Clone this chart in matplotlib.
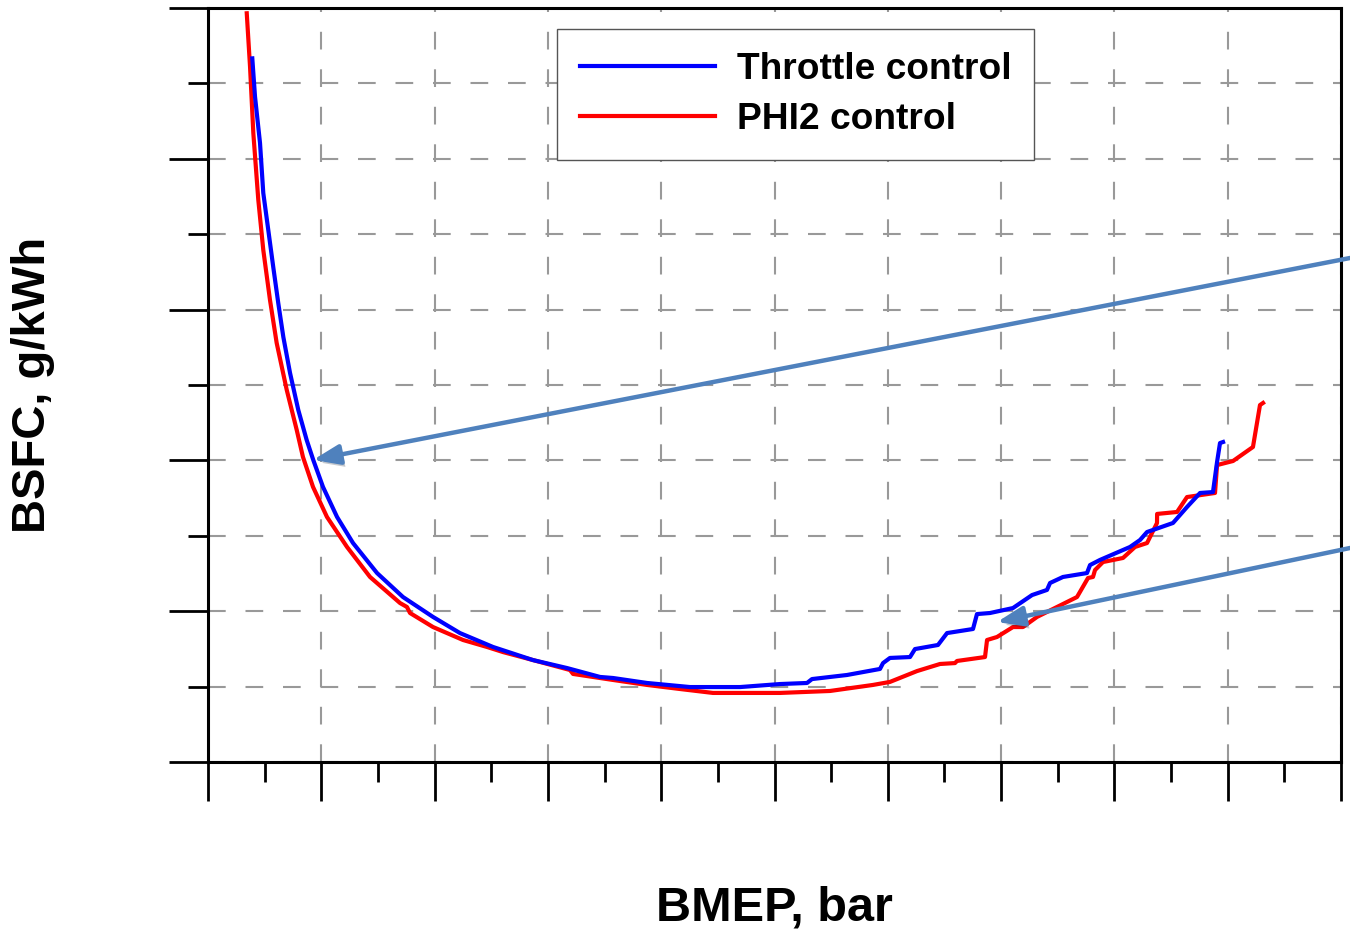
import matplotlib
matplotlib.use("Agg")
import matplotlib.pyplot as plt
import matplotlib.patheffects as pe
from matplotlib.ticker import MultipleLocator, NullFormatter

plt.rcParams['font.family'] = ['Liberation Sans', 'DejaVu Sans']

# Throttle control (BMEP in bar, BSFC in g/kWh)
throttle_bmep = [0.391, 0.415, 0.459, 0.488, 0.532, 0.576, 0.620, 0.665, 0.724, 0.797,
                 0.871, 0.929, 1.015, 1.139, 1.280, 1.492, 1.721, 1.986, 2.224, 2.515,
                 2.868, 3.169, 3.460, 3.575, 3.875, 4.254, 4.696, 5.049, 5.287, 5.331,
                 5.640, 5.931, 5.958, 6.019, 6.196, 6.240, 6.443, 6.523, 6.752, 6.787,
                 6.902, 7.105, 7.273, 7.405, 7.432, 7.546, 7.758, 7.785, 7.873, 8.138,
                 8.226, 8.288, 8.517, 8.641, 8.756, 8.870, 8.906, 8.932, 8.959]
throttle_bsfc = [666.6, 641.2, 610.5, 577.3, 552.8, 528.2, 504.4, 481.8, 458.0, 433.4,
                 413.5, 400.3, 382.4, 362.5, 345.2, 325.3, 309.4, 296.2, 285.5, 276.3,
                 267.6, 262.3, 256.4, 255.7, 252.4, 249.7, 249.7, 251.7, 252.4, 255.0,
                 257.7, 261.7, 265.6, 269.0, 269.6, 274.9, 277.6, 285.5, 288.2, 298.1,
                 298.8, 302.1, 310.7, 314.1, 318.7, 322.7, 325.3, 330.6, 334.0, 342.6,
                 347.2, 352.5, 358.5, 369.1, 378.4, 379.0, 398.9, 411.5, 412.2]

# PHI2 control
phi2_bmep = [0.342, 0.371, 0.400, 0.444, 0.488, 0.547, 0.606, 0.695, 0.783, 0.838,
             0.927, 1.050, 1.227, 1.430, 1.695, 1.756, 1.783, 1.986, 2.251, 2.462,
             2.604, 2.868, 3.195, 3.222, 3.460, 3.575, 3.875, 4.166, 4.457, 5.049,
             5.490, 5.869, 6.019, 6.258, 6.461, 6.593, 6.611, 6.858, 6.876, 6.964,
             7.105, 7.193, 7.317, 7.670, 7.767, 7.811, 7.829, 7.899, 8.076, 8.182,
             8.288, 8.376, 8.377, 8.553, 8.641, 8.888, 8.906, 9.047, 9.223, 9.285, 9.312]
phi2_bsfc = [696.5, 661.1, 617.1, 572.7, 539.5, 506.4, 477.9, 446.7, 420.2, 402.3,
             382.4, 362.5, 342.6, 322.7, 305.4, 302.8, 298.8, 289.5, 280.9, 276.3,
             272.9, 267.6, 261.0, 258.4, 255.7, 254.4, 251.1, 248.4, 245.8, 245.8,
             247.1, 251.1, 253.1, 260.3, 265.0, 265.6, 267.0, 269.6, 280.9, 282.9,
             289.5, 289.5, 296.2, 309.4, 322.0, 322.7, 327.3, 332.6, 335.3, 342.6,
             345.2, 358.5, 364.5, 365.8, 375.7, 378.4, 396.9, 399.6, 408.9, 436.7, 438.1]

series_labels = ["Throttle control", "PHI2 control"]
x_label = "BMEP, bar"
y_label = "BSFC, g/kWh"

fig = plt.figure(figsize=(13.5, 9.3), dpi=100)
ax = fig.add_axes([208/1350, 1-762/930, (1341-208)/1350, (762-8)/930])

ax.plot(throttle_bmep, throttle_bsfc, color='#0000FF', lw=3.0, label=series_labels[0],
        zorder=4, solid_joinstyle='round')
ax.plot(phi2_bmep, phi2_bsfc, color='#FF0000', lw=3.0, label=series_labels[1],
        zorder=3, solid_joinstyle='round')

ax.set_xlim(0, 10)
ax.set_ylim(200, 700)
ax.xaxis.set_major_locator(MultipleLocator(1))
ax.xaxis.set_minor_locator(MultipleLocator(0.5))
ax.yaxis.set_major_locator(MultipleLocator(100))
ax.yaxis.set_minor_locator(MultipleLocator(50))
ax.xaxis.set_major_formatter(NullFormatter())
ax.yaxis.set_major_formatter(NullFormatter())
ax.tick_params(which='major', direction='out', length=28, width=2.0, color='black')
ax.tick_params(which='minor', direction='out', length=14.5, width=2.0, color='black')
ax.tick_params(top=False, right=False)
for s in ax.spines.values():
    s.set_linewidth(2.2)
    s.set_color('black')

gkw = dict(color='#999999', lw=1.5, dashes=(8.5, 9.5))
ax.grid(True, axis='x', which='major', **gkw)
ax.grid(True, axis='y', which='both', **gkw)
ax.set_axisbelow(True)

leg = ax.legend(loc='upper left', bbox_to_anchor=(557/1350, 1-29/930),
                bbox_transform=fig.transFigure, borderaxespad=0,
                prop=dict(weight='bold', size=26.7), handlelength=3.65, handletextpad=0.58,
                borderpad=0.62, labelspacing=0.4, fancybox=False, framealpha=1)
leg.get_frame().set_edgecolor('#555555')
leg.get_frame().set_linewidth(1.0)

fig.text(774/1350, 1-908/930, x_label, ha='center', va='center', fontsize=35, fontweight='bold')
fig.text(33/1350, 1-385/930, y_label, ha='center', va='center', rotation=90, fontsize=34, fontweight='bold')

arrow_col = '#4F81BD'
aprops = dict(arrowstyle='-|>,head_length=0.8,head_width=0.3', color=arrow_col, lw=3.2,
              shrinkA=0, shrinkB=0, mutation_scale=20,
              path_effects=[pe.withSimplePatchShadow(offset=(2, -3), alpha=0.25)])
ax.annotate('', xy=(0.927, 400.3), xycoords='data',
            xytext=(1.0, 1-258/930), textcoords='figure fraction',
            arrowprops=aprops, annotation_clip=False)
ax.annotate('', xy=(6.964, 292.8), xycoords='data',
            xytext=(1.0, 1-548/930), textcoords='figure fraction',
            arrowprops=aprops, annotation_clip=False)

fig.savefig('out.png', dpi=100)
